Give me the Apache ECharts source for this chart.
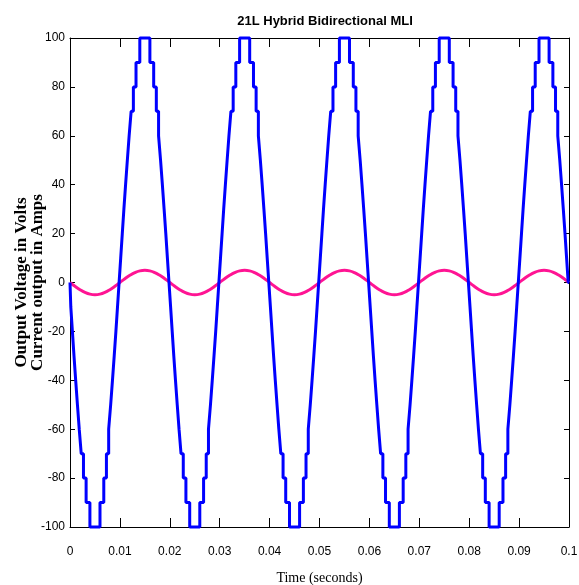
<!DOCTYPE html>
<html><head><meta charset="utf-8">
<script src="https://cdn.jsdelivr.net/npm/echarts@6/dist/echarts.min.js"></script>
<style>html,body{margin:0;padding:0;background:#fff}#c{width:579px;height:585px}</style>
</head><body><div id="c"></div>
<script>
// Axis ranges / ticks
const xMin = 0, xMax = 0.1, xStep = 0.01;
const yMin = -100, yMax = 100, yStep = 20;
const periodMs = 20;
const periodCount = 5;

// One period of the 21-level staircase voltage: switching instants (ms) and the level held after each
const stepTimesMs = [0, 0.16, 0.48, 0.80, 1.14, 1.49, 1.85, 2.25, 2.70, 3.23, 3.99,
  6.01, 6.77, 7.30, 7.75, 8.15, 8.51, 8.86, 9.20, 9.52, 9.84,
  10.16, 10.48, 10.80, 11.14, 11.49, 11.85, 12.25, 12.70, 13.23, 13.99,
  16.01, 16.77, 17.30, 17.75, 18.15, 18.51, 18.86, 19.20, 19.52, 19.84];
const stepLevels = [0, -10, -20, -30, -40, -50, -60, -70, -80, -90, -100,
  -90, -80, -70, -60, -50, -40, -30, -20, -10, 0,
  10, 20, 30, 40, 50, 60, 70, 80, 90, 100,
  90, 80, 70, 60, 50, 40, 30, 20, 10, 0];

// One period of the load current, sampled every 1 ms (A)
const currentTimesMs = [0,1,2,3,4,5,6,7,8,9,10,11,12,13,14,15,16,17,18,19];
const currentValues = [0, -1.55, -2.94, -4.05, -4.76, -5, -4.76, -4.05, -2.94, -1.55,
  0, 1.55, 2.94, 4.05, 4.76, 5, 4.76, 4.05, 2.94, 1.55];

const voltageData = [];
const currentData = [];
for (let p = 0; p < periodCount; p++) {
  for (let i = 0; i < stepTimesMs.length; i++) {
    voltageData.push([(p * periodMs + stepTimesMs[i]) / 1000, stepLevels[i]]);
  }
  for (let i = 0; i < currentTimesMs.length; i++) {
    currentData.push([(p * periodMs + currentTimesMs[i]) / 1000, currentValues[i]]);
  }
}
voltageData.push([xMax, 0]);
currentData.push([xMax, 0]);

const sans = '"Liberation Sans", Arial, sans-serif';
const serif = '"Liberation Serif", "Times New Roman", serif';

const axisLine = { show: true, onZero: false, lineStyle: { color: '#000', width: 1 } };
const xTick = { show: true, inside: true, length: 9, lineStyle: { color: '#000' } };
const yTick = { show: true, inside: true, length: 5, lineStyle: { color: '#000' } };

const chart = echarts.init(document.getElementById('c'), null, { renderer: 'canvas' });
chart.setOption({
  backgroundColor: '#fff',
  animation: false,
  title: {
    text: '21L Hybrid Bidirectional MLI',
    left: 320, top: 10, textAlign: 'center',
    textStyle: { fontFamily: sans, fontWeight: 'bold', fontSize: 13, color: '#000' }
  },
  grid: { left: 70, right: 10, top: 38, bottom: 58, containLabel: false, outerBoundsMode: 'none' },
  xAxis: [{
    type: 'value', min: xMin, max: xMax, interval: xStep, position: 'bottom',
    name: 'Time (seconds)', nameLocation: 'middle', nameGap: 44, nameMoveOverlap: false,
    nameTextStyle: { fontFamily: serif, fontSize: 14, color: '#000' },
    axisLine: axisLine, axisTick: xTick, splitLine: { show: false },
    axisLabel: { margin: 19, color: '#000', fontFamily: sans, fontSize: 12,
      formatter: v => String(Math.round(v * 100) / 100) }
  }, {
    type: 'value', min: xMin, max: xMax, interval: xStep, position: 'top',
    axisLine: axisLine, axisTick: xTick, splitLine: { show: false }, axisLabel: { show: false }
  }],
  yAxis: [{
    type: 'value', min: yMin, max: yMax, interval: yStep, position: 'left',
    name: 'Output Voltage in Volts\nCurrent output in Amps', nameLocation: 'middle', nameGap: 24,
    nameRotate: 90, nameMoveOverlap: false,
    nameTextStyle: { fontFamily: serif, fontWeight: 'bold', fontSize: 17, lineHeight: 16, color: '#000' },
    axisLine: axisLine, axisTick: yTick, splitLine: { show: false },
    axisLabel: { margin: 5, color: '#000', fontFamily: sans, fontSize: 12 }
  }, {
    type: 'value', min: yMin, max: yMax, interval: yStep, position: 'right',
    axisLine: axisLine, axisTick: yTick, splitLine: { show: false }, axisLabel: { show: false }
  }],
  series: [{
    name: 'Current', type: 'line', data: currentData, smooth: true, showSymbol: false,
    clip: false, lineStyle: { color: '#FF1493', width: 3 }
  }, {
    name: 'Voltage', type: 'line', data: voltageData, step: 'end', showSymbol: false,
    clip: false, lineStyle: { color: '#0000FF', width: 3 }
  }]
});
</script>
</body></html>
